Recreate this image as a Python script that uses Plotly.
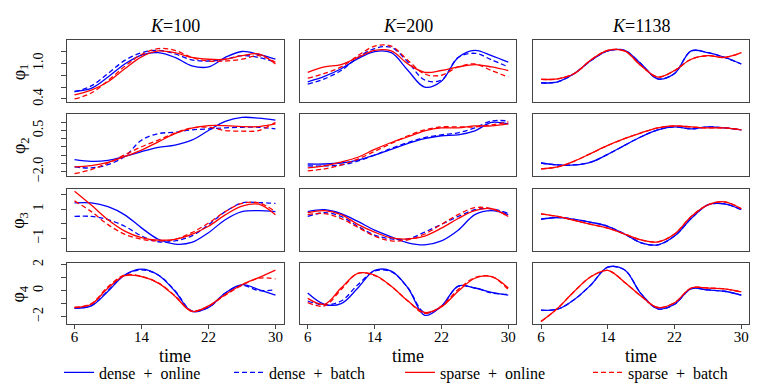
import plotly.graph_objects as go

# time grid shared by every curve (hours)
TIME = [6, 8, 10, 12, 14, 16, 18, 20, 22, 24, 26, 28, 30]
K_LABELS = ["100", "200", "1138"]
METHODS = ["dense\u00a0 +\u00a0 online", "dense\u00a0 +\u00a0 batch",
           "sparse\u00a0 +\u00a0 online", "sparse\u00a0 +\u00a0 batch"]

# phi_1
k100_phi1_do = [0.53, 0.58, 0.77, 0.99, 1.14, 1.18, 1.10, 0.96, 0.94, 1.10, 1.20, 1.15, 1.07]
k100_phi1_db = [0.52, 0.62, 0.83, 1.05, 1.18, 1.22, 1.16, 1.06, 1.04, 1.07, 1.13, 1.10, 1.02]
k100_phi1_so = [0.47, 0.55, 0.69, 0.91, 1.11, 1.21, 1.18, 1.10, 1.07, 1.07, 1.13, 1.16, 0.99]
k100_phi1_sb = [0.40, 0.50, 0.71, 0.95, 1.15, 1.25, 1.22, 1.10, 1.04, 1.04, 1.07, 1.13, 1.02]
k200_phi1_do = [0.69, 0.78, 0.91, 1.08, 1.20, 1.18, 0.88, 0.60, 0.70, 1.10, 1.22, 1.13, 1.02]
k200_phi1_db = [0.65, 0.74, 0.88, 1.10, 1.25, 1.27, 1.02, 0.72, 0.72, 1.10, 1.17, 1.06, 0.94]
k200_phi1_so = [0.85, 0.94, 0.98, 1.10, 1.22, 1.21, 0.99, 0.85, 0.88, 0.94, 0.98, 0.94, 0.88]
k200_phi1_sb = [0.75, 0.83, 0.94, 1.13, 1.29, 1.29, 1.05, 0.82, 0.80, 0.94, 0.99, 0.88, 0.77]
k1138_phi1_do = [0.67, 0.69, 0.83, 1.05, 1.21, 1.22, 0.99, 0.74, 0.83, 1.21, 1.18, 1.10, 0.99]
k1138_phi1_db = [0.67, 0.69, 0.83, 1.05, 1.21, 1.22, 0.99, 0.74, 0.83, 1.21, 1.18, 1.10, 0.99]
k1138_phi1_so = [0.73, 0.74, 0.83, 1.06, 1.22, 1.21, 0.96, 0.77, 0.88, 1.07, 1.13, 1.10, 1.18]
k1138_phi1_sb = [0.73, 0.74, 0.83, 1.06, 1.22, 1.21, 0.96, 0.77, 0.88, 1.07, 1.13, 1.10, 1.18]

# phi_2
k100_phi2_do = [-1.28, -1.38, -1.32, -1.08, -0.79, -0.53, -0.39, -0.09, 0.50, 1.06, 1.30, 1.26, 1.14]
k100_phi2_db = [-1.72, -1.78, -1.58, -1.08, -0.09, 0.31, 0.40, 0.54, 0.60, 0.66, 0.70, 0.70, 0.60]
k100_phi2_so = [-1.72, -1.64, -1.44, -1.08, -0.69, -0.19, 0.31, 0.64, 0.80, 0.80, 0.74, 0.74, 0.90]
k100_phi2_sb = [-2.13, -1.88, -1.48, -0.98, -0.49, -0.09, 0.35, 0.66, 0.70, 0.50, 0.46, 0.50, 1.00]
k200_phi2_do = [-1.54, -1.54, -1.48, -1.30, -1.00, -0.65, -0.29, 0.00, 0.18, 0.24, 0.48, 1.00, 0.90]
k200_phi2_db = [-1.66, -1.66, -1.60, -1.36, -1.00, -0.59, -0.23, 0.07, 0.24, 0.36, 0.66, 1.08, 1.08]
k200_phi2_so = [-1.78, -1.66, -1.42, -1.13, -0.65, -0.23, 0.12, 0.48, 0.66, 0.66, 0.78, 0.78, 0.90]
k200_phi2_sb = [-1.96, -1.84, -1.60, -1.24, -0.77, -0.29, 0.18, 0.54, 0.72, 0.72, 0.72, 0.84, 1.02]
k1138_phi2_do = [-1.48, -1.60, -1.60, -1.42, -0.95, -0.41, 0.12, 0.54, 0.72, 0.60, 0.72, 0.66, 0.54]
k1138_phi2_db = [-1.48, -1.60, -1.60, -1.42, -0.95, -0.41, 0.12, 0.54, 0.72, 0.60, 0.72, 0.66, 0.54]
k1138_phi2_so = [-1.84, -1.72, -1.36, -0.89, -0.41, 0.00, 0.36, 0.66, 0.78, 0.72, 0.66, 0.66, 0.54]
k1138_phi2_sb = [-1.84, -1.72, -1.36, -0.89, -0.41, 0.00, 0.36, 0.66, 0.78, 0.72, 0.66, 0.66, 0.54]

# phi_3
k100_phi3_do = [1.42, 1.42, 1.16, 0.60, -0.29, -1.07, -1.40, -1.29, -0.62, 0.27, 0.82, 0.89, 0.82]
k100_phi3_db = [0.49, 0.49, 0.27, -0.18, -0.84, -1.24, -1.18, -0.84, -0.07, 0.82, 1.42, 1.44, 1.38]
k100_phi3_so = [2.22, 1.27, 0.27, -0.51, -0.96, -1.13, -1.07, -0.73, -0.18, 0.60, 1.20, 1.33, 0.60]
k100_phi3_sb = [1.56, 0.82, -0.07, -0.73, -1.07, -1.18, -1.07, -0.62, 0.04, 0.82, 1.38, 1.42, 0.82]
k200_phi3_do = [0.82, 0.95, 0.69, 0.15, -0.45, -0.91, -1.31, -1.45, -1.18, -0.45, 0.62, 0.89, 0.62]
k200_phi3_db = [0.49, 0.75, 0.49, -0.18, -0.78, -1.05, -1.05, -0.58, -0.05, 0.49, 0.95, 1.02, 0.69]
k200_phi3_so = [0.75, 0.89, 0.62, -0.05, -0.58, -0.98, -1.05, -0.85, -0.31, 0.35, 0.89, 1.02, 0.49]
k200_phi3_sb = [0.62, 0.69, 0.35, -0.25, -0.85, -1.18, -1.11, -0.71, -0.05, 0.62, 1.09, 1.02, 0.49]
k1138_phi3_do = [0.30, 0.42, 0.29, 0.09, -0.18, -0.71, -1.31, -1.45, -0.85, 0.35, 1.29, 1.35, 0.95]
k1138_phi3_db = [0.30, 0.42, 0.29, 0.09, -0.18, -0.71, -1.31, -1.45, -0.85, 0.35, 1.29, 1.35, 0.95]
k1138_phi3_so = [0.67, 0.49, 0.22, -0.05, -0.31, -0.71, -1.11, -1.25, -0.71, 0.49, 1.29, 1.49, 1.02]
k1138_phi3_sb = [0.67, 0.49, 0.22, -0.05, -0.31, -0.71, -1.11, -1.25, -0.71, 0.49, 1.29, 1.49, 1.02]

# phi_4
k100_phi4_do = [-1.35, -1.18, -0.05, 1.20, 1.65, 1.20, -0.05, -1.60, -1.30, -0.18, 0.45, 0.08, -0.35]
k100_phi4_db = [-1.35, -1.15, 0.00, 1.20, 1.60, 1.20, 0.00, -1.55, -1.30, -0.20, 0.40, 0.00, 0.08]
k100_phi4_so = [-1.30, -1.05, 0.20, 1.15, 1.08, 0.58, -0.43, -1.60, -1.18, -0.30, 0.45, 1.00, 1.58]
k100_phi4_sb = [-1.30, -1.00, 0.30, 1.20, 1.10, 0.60, -0.40, -1.55, -1.20, -0.35, 0.40, 0.95, 0.90]
k200_phi4_do = [-0.18, -1.05, -1.00, 0.20, 1.55, 1.50, 0.20, -1.90, -1.20, 0.35, 0.20, -0.13, -0.35]
k200_phi4_db = [-0.80, -1.10, -0.80, 0.45, 1.50, 1.45, 0.20, -1.70, -1.20, 0.33, 0.20, -0.18, -0.30]
k200_phi4_so = [-0.60, -1.05, 0.20, 1.33, 1.20, 0.33, -0.80, -1.68, -1.25, -0.05, 0.95, 1.08, 0.20]
k200_phi4_sb = [-0.93, -1.18, 0.08, 1.33, 1.15, 0.33, -0.80, -1.75, -1.18, 0.08, 1.00, 1.08, 0.08]
k1138_phi4_do = [-1.50, -1.43, -0.68, 0.45, 1.80, 1.60, -0.25, -1.40, -1.05, 0.15, 0.05, -0.05, -0.35]
k1138_phi4_db = [-1.50, -1.43, -0.68, 0.45, 1.80, 1.60, -0.25, -1.40, -1.05, 0.15, 0.05, -0.05, -0.35]
k1138_phi4_so = [-2.38, -1.35, -0.05, 1.08, 1.55, 0.65, -0.43, -1.30, -0.93, 0.20, 0.20, 0.13, -0.10]
k1138_phi4_sb = [-2.38, -1.35, -0.05, 1.08, 1.55, 0.65, -0.43, -1.30, -0.93, 0.20, 0.20, 0.13, -0.10]

# y axis ticks per row
PHI1_TICKS = [0.4, 0.6, 0.8, 1.0, 1.2]
PHI1_TEXT = ["0.4", "", "", "1.0", ""]
PHI2_TICKS = [-2.0, -1.5, -1.0, -0.5, 0.0, 0.5, 1.0]
PHI2_TEXT = ["\u22122.0", "", "", "", "", "0.5", ""]
PHI3_TICKS = [-1, 0, 1, 2]
PHI3_TEXT = ["\u22121", "", "1", ""]
PHI4_TICKS = [-2, -1, 0, 1, 2]
PHI4_TEXT = ["\u22122", "", "0", "", "2"]
X_TICKS = [6, 14, 22, 30]

ROW_TICKS = [(PHI1_TICKS, PHI1_TEXT), (PHI2_TICKS, PHI2_TEXT),
             (PHI3_TICKS, PHI3_TEXT), (PHI4_TICKS, PHI4_TEXT)]
ROW_RANGES = [[0.344, 1.39], [-2.27, 1.49], [-1.85, 2.37], [-2.6, 2.15]]

PANELS = [
    [[k100_phi1_do, k100_phi1_db, k100_phi1_so, k100_phi1_sb],
     [k200_phi1_do, k200_phi1_db, k200_phi1_so, k200_phi1_sb],
     [k1138_phi1_do, k1138_phi1_db, k1138_phi1_so, k1138_phi1_sb]],
    [[k100_phi2_do, k100_phi2_db, k100_phi2_so, k100_phi2_sb],
     [k200_phi2_do, k200_phi2_db, k200_phi2_so, k200_phi2_sb],
     [k1138_phi2_do, k1138_phi2_db, k1138_phi2_so, k1138_phi2_sb]],
    [[k100_phi3_do, k100_phi3_db, k100_phi3_so, k100_phi3_sb],
     [k200_phi3_do, k200_phi3_db, k200_phi3_so, k200_phi3_sb],
     [k1138_phi3_do, k1138_phi3_db, k1138_phi3_so, k1138_phi3_sb]],
    [[k100_phi4_do, k100_phi4_db, k100_phi4_so, k100_phi4_sb],
     [k200_phi4_do, k200_phi4_db, k200_phi4_so, k200_phi4_sb],
     [k1138_phi4_do, k1138_phi4_db, k1138_phi4_so, k1138_phi4_sb]],
]

COLORS = ["#0000ff", "#0000ff", "#ff0000", "#ff0000"]
DASHES = ["solid", "5px,3px", "solid", "5px,3px"]
LEGENDS = ["legend", "legend2", "legend3", "legend4"]

W, H = 761, 387
COL_X = [(58.5, 275.5), (291.7, 508.3), (525, 741.3)]
ROW_Y = [(29, 92.7), (105, 168.3), (181.7, 245), (257.3, 320.7)]
LEGEND_X = [63, 233, 404, 592]
FONT = "Liberation Serif"
BOX = "#444444"

fig = go.Figure()
layout = {}

for r in range(4):
    for c in range(3):
        i = r * 3 + c + 1
        sfx = "" if i == 1 else str(i)
        for m in range(4):
            fig.add_trace(go.Scatter(
                x=TIME, y=PANELS[r][c][m], mode="lines",
                line=dict(color=COLORS[m], width=1.3, dash=DASHES[m],
                          shape="spline", smoothing=1.0),
                name=METHODS[m], legend=LEGENDS[m],
                showlegend=(r == 0 and c == 0),
                xaxis="x" + sfx, yaxis="y" + sfx,
                hoverinfo="skip",
            ))
        x0, x1 = COL_X[c]
        y0, y1 = ROW_Y[r]
        bottom = r == 3
        left = c == 0
        layout["xaxis" + sfx] = dict(
            domain=[x0 / W, x1 / W], anchor="y" + sfx, range=[5.04, 30.96],
            showline=True, mirror=True, linecolor=BOX, linewidth=1,
            showgrid=False, zeroline=False,
            tickvals=X_TICKS if bottom else [],
            ticks="outside" if bottom else "", ticklen=4, tickcolor=BOX,
            showticklabels=bottom, ticklabelstandoff=-5,
            tickfont=dict(size=15, color="black"),
        )
        tv, tt = ROW_TICKS[r]
        layout["yaxis" + sfx] = dict(
            domain=[1 - y1 / H, 1 - y0 / H], anchor="x" + sfx, range=ROW_RANGES[r],
            showline=True, mirror=True, linecolor=BOX, linewidth=1,
            showgrid=False, zeroline=False,
            tickvals=tv if left else [], ticktext=tt if left else [],
            ticks="outside" if left else "", ticklen=5, tickcolor=BOX,
            showticklabels=left, tickangle=-90, ticklabelstandoff=12,
            tickfont=dict(size=14, color="black"),
        )

annotations = []
for c in range(3):
    xc = (COL_X[c][0] + COL_X[c][1]) / 2 / W
    annotations.append(dict(text="<i>K</i>=" + K_LABELS[c], x=xc, y=1 - 14 / H,
                            xref="paper", yref="paper", showarrow=False,
                            xanchor="center", yanchor="middle",
                            font=dict(size=18)))
    annotations.append(dict(text="time", x=xc, y=1 - 353 / H,
                            xref="paper", yref="paper", showarrow=False,
                            xanchor="center", yanchor="middle",
                            font=dict(size=18)))
for r in range(4):
    yc = 1 - (ROW_Y[r][0] + ROW_Y[r][1]) / 2 / H
    annotations.append(dict(text="\u03c6<sub>%d</sub>" % (r + 1), x=12 / W, y=yc,
                            xref="paper", yref="paper", showarrow=False,
                            xanchor="center", yanchor="middle",
                            textangle=-90, font=dict(size=18)))

for m in range(4):
    layout[LEGENDS[m]] = dict(
        x=(LEGEND_X[m] - 12) / W, y=1 - 370 / H, xanchor="left", yanchor="middle",
        orientation="h", bgcolor="rgba(0,0,0,0)", borderwidth=0,
        font=dict(size=16, color="black", family=FONT),
    )

fig.update_layout(
    width=W, height=H,
    margin=dict(l=0, r=0, t=0, b=0),
    paper_bgcolor="white", plot_bgcolor="white",
    font=dict(family=FONT, color="black"),
    annotations=annotations,
    **layout,
)

fig.write_html("out.html")
